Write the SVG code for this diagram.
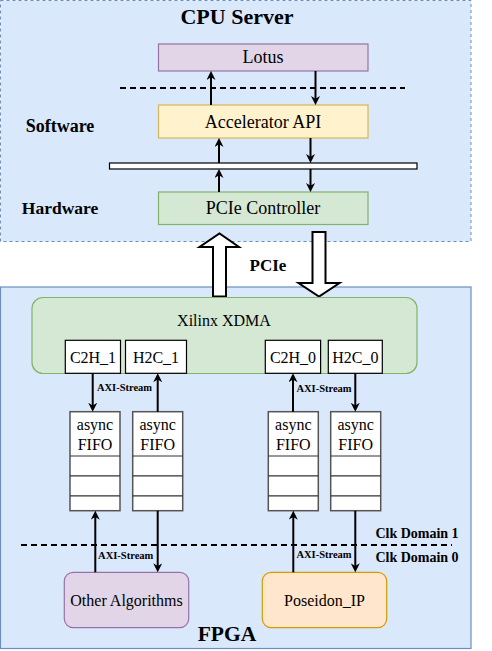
<svg xmlns="http://www.w3.org/2000/svg" width="492" height="651" viewBox="0 0 492 651" font-family="'Liberation Serif', serif">
<defs>
<marker id="ah" viewBox="0 0 10 10" refX="5.5" refY="5" markerWidth="9" markerHeight="9" markerUnits="userSpaceOnUse" orient="auto">
<path d="M0,0 L10,5 L0,10 L3,5 z" fill="#000"/>
</marker>
<style>
text{font-family:'Liberation Serif',serif;fill:#000;text-anchor:middle}
.b{font-weight:bold}
.l{font-size:18px}
.m{font-size:16px}
.s{font-size:10.5px;font-weight:bold}
.w{fill:#fff;stroke:#000;stroke-width:1.2}
.f{fill:#fff;stroke:#555;stroke-width:1.5}
.fd{stroke:#333;stroke-width:1.2}
.c{fill:none;stroke:#000;stroke-width:2;marker-end:url(#ah)}
.d{fill:none;stroke:#000;stroke-width:2;stroke-dasharray:6 4}
.blk{fill:#fff;stroke:#000;stroke-width:2}
</style>
</defs>
<g id="cpu-server">
<rect x="0.5" y="0.5" width="470.5" height="241" fill="#dae8fc" stroke="#6c8ebf" stroke-dasharray="3 3"/>
<text x="237" y="24" class="b" font-size="22">CPU Server</text>
<text x="60" y="132" class="b l">Software</text>
<text x="60" y="213.5" class="b" font-size="17.5">Hardware</text>
</g>
<g id="fpga">
<rect x="0.5" y="287" width="470.5" height="361.5" fill="#dae8fc" stroke="#6c8ebf" stroke-width="1.2"/>
<text x="227" y="641" class="b" font-size="21.5">FPGA</text>
</g>
<g id="lotus">
<rect x="158.5" y="44" width="209.5" height="27" fill="#e1d5e7" stroke="#9673a6" stroke-width="1.2"/>
<text x="263" y="63.3" class="l">Lotus</text>
</g>
<g id="accelerator-api">
<rect x="158.5" y="105" width="209.5" height="33" fill="#fff2cc" stroke="#d6b656" stroke-width="1.2"/>
<text x="263" y="127.7" class="l">Accelerator API</text>
</g>
<g id="bus">
<rect x="109.5" y="163" width="307.5" height="6" class="w"/>
</g>
<g id="pcie-controller">
<rect x="158.5" y="192" width="209.5" height="32.5" fill="#d5e8d4" stroke="#82b366" stroke-width="1.2"/>
<text x="263" y="213.5" class="l">PCIe Controller</text>
</g>
<g id="pcie-link">
<path class="blk" d="M213,296.5 L213,247 L199.5,247 L219.5,233.5 L239,247 L226,247 L226,296.5 Z"/>
<path class="blk" d="M312.5,232 L325.5,232 L325.5,283 L339.5,283 L319,296.5 L298.5,283 L312.5,283 Z"/>
<text x="268" y="270.7" class="b" font-size="17">PCIe</text>
</g>
<g id="xilinx-xdma">
<rect x="32" y="297.5" width="385" height="76" rx="11" fill="#d5e8d4" stroke="#82b366" stroke-width="1.2"/>
<text x="224" y="326" class="m">Xilinx XDMA</text>
</g>
<g id="c2h-1"><rect x="65.3" y="340.3" width="55.2" height="33" class="w"/><text x="93" y="362.7" class="m">C2H_1</text></g>
<g id="h2c-1"><rect x="125.5" y="340.3" width="61" height="33" class="w"/><text x="156" y="362.7" class="m">H2C_1</text></g>
<g id="c2h-0"><rect x="265.3" y="340.3" width="55.3" height="33" class="w"/><text x="293" y="362.7" class="m">C2H_0</text></g>
<g id="h2c-0"><rect x="328.3" y="340.3" width="54" height="33" class="w"/><text x="355.3" y="362.7" class="m">H2C_0</text></g>
<g id="fifo-1">
<rect x="70" y="411.7" width="50" height="99" class="f"/>
<path class="fd" d="M70,456 H120 M70,475.8 H120 M70,495.8 H120"/>
<text x="95" y="430" class="m">async</text><text x="95" y="450" class="m">FIFO</text>
</g>
<g id="fifo-2">
<rect x="132.7" y="411.7" width="50" height="99" class="f"/>
<path class="fd" d="M132.7,456 H182.7 M132.7,475.8 H182.7 M132.7,495.8 H182.7"/>
<text x="157.7" y="430" class="m">async</text><text x="157.7" y="450" class="m">FIFO</text>
</g>
<g id="fifo-3">
<rect x="268.3" y="411.7" width="50" height="99" class="f"/>
<path class="fd" d="M268.3,456 H318.3 M268.3,475.8 H318.3 M268.3,495.8 H318.3"/>
<text x="293.3" y="430" class="m">async</text><text x="293.3" y="450" class="m">FIFO</text>
</g>
<g id="fifo-4">
<rect x="330.7" y="411.7" width="50" height="99" class="f"/>
<path class="fd" d="M330.7,456 H380.7 M330.7,475.8 H380.7 M330.7,495.8 H380.7"/>
<text x="355.7" y="430" class="m">async</text><text x="355.7" y="450" class="m">FIFO</text>
</g>
<g id="other-algorithms">
<rect x="64.3" y="572.3" width="124.4" height="55.4" rx="9" fill="#e1d5e7" stroke="#9673a6" stroke-width="1.2"/>
<text x="126.5" y="605.7" class="m">Other Algorithms</text>
</g>
<g id="poseidon-ip">
<rect x="262.3" y="572.3" width="124.4" height="55.4" rx="9" fill="#ffe6cc" stroke="#d79b00" stroke-width="1.2"/>
<text x="324.5" y="605.7" class="m">Poseidon_IP</text>
</g>
<g id="clk-domains">
<path class="d" d="M21,545 H452"/>
<text x="417" y="537.7" class="b" font-size="14">Clk Domain 1</text>
<text x="417" y="562.3" class="b" font-size="14">Clk Domain 0</text>
</g>
<g id="connectors">
<path class="d" d="M120,88 H405"/>
<path class="c" d="M211,105 V75"/>
<path class="c" d="M315.5,71 V101"/>
<path class="c" d="M219,163 V142"/>
<path class="c" d="M310.5,138 V159"/>
<path class="c" d="M219,192 V173"/>
<path class="c" d="M310.5,169 V188"/>
<path class="c" d="M92.7,373.3 V407.7"/>
<path class="c" d="M157.7,411.7 V377.3"/>
<path class="c" d="M293,411.7 V377.3"/>
<path class="c" d="M355.3,373.3 V407.7"/>
<path class="c" d="M95.3,572.3 V514.7"/>
<path class="c" d="M157.7,510.7 V568.3"/>
<path class="c" d="M293.3,572.3 V514.7"/>
<path class="c" d="M355.3,510.7 V568.3"/>
<text x="124.5" y="390.5" class="s">AXI-Stream</text>
<text x="324" y="391.5" class="s">AXI-Stream</text>
<text x="125.7" y="559.3" class="s">AXI-Stream</text>
<text x="324" y="558.3" class="s">AXI-Stream</text>
</g>
</svg>
